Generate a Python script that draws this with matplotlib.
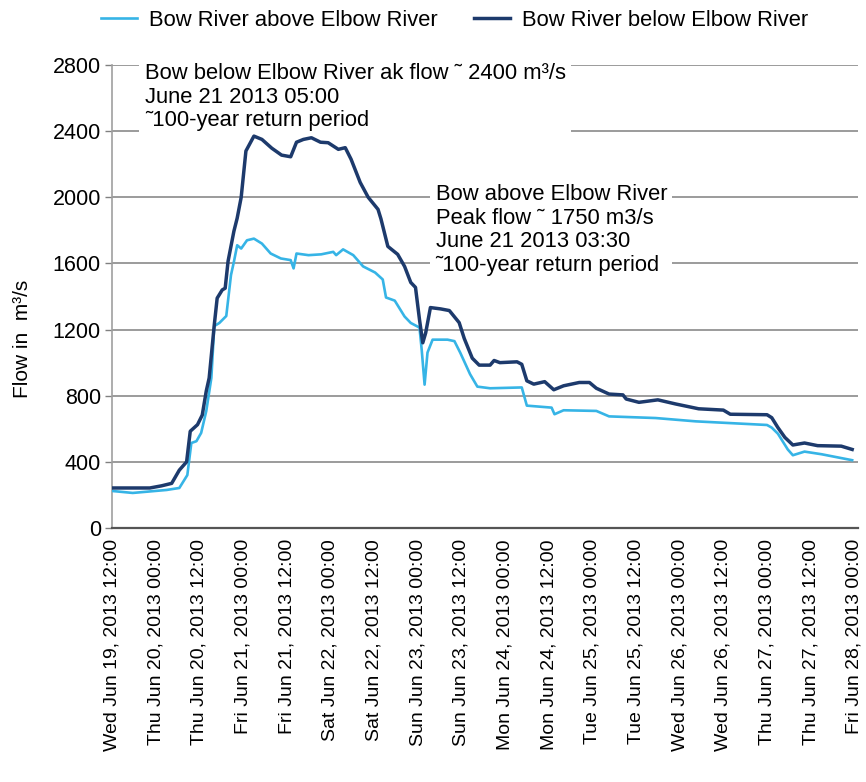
import matplotlib
matplotlib.use("Agg")
import matplotlib.pyplot as plt
import matplotlib.dates as mdates
from datetime import datetime, timedelta

plt.rcParams['font.family'] = ['Liberation Sans', 'DejaVu Sans']

# ---- data (hours after Wed Jun 19 2013 12:00) ----
above_hours = [0, 5.7, 15.0, 18.5, 20.7, 21.8, 23.2, 24.5, 25.9, 27.3, 28.1, 29.5, 31.4, 32.7,
               33.5, 34.4, 35.5, 37.1, 39.0, 41.2, 43.6, 46.4, 49.1, 49.9, 50.7, 54.0, 57.5,
               60.8, 61.6, 63.5, 66.3, 69.0, 72.3, 74.4, 75.3, 77.7, 80.4, 82.1, 84.5, 85.1,
               85.9, 86.7, 88.1, 92.2, 94.1, 95.7, 98.4, 100.4, 103.9, 112.6, 114.0, 120.8,
               121.6, 124.1, 133.1, 136.6, 149.4, 160.4, 180.0, 181.3, 183.0, 185.7, 187.1,
               190.3, 195.0, 203.4]
above_flow = [224, 212, 230, 242, 320, 514, 525, 575, 707, 907, 1221, 1240, 1282, 1530,
              1610, 1710, 1690, 1740, 1750, 1720, 1660, 1630, 1620, 1570, 1660, 1650, 1655,
              1670, 1650, 1685, 1650, 1582, 1545, 1503, 1394, 1375, 1279, 1240, 1212, 1079,
              867, 1061, 1139, 1139, 1130, 1060, 930, 855, 845, 850, 740, 728,
              688, 712, 708, 675, 665, 645, 623, 607, 570, 475, 440,
              462, 446, 410]

below_hours = [0, 10.4, 13.6, 16.4, 18.5, 20.5, 21.5, 23.5, 24.8, 25.9, 26.7, 28.1, 28.9,
               30.3, 31.1, 31.9, 33.5, 34.4, 35.5, 36.8, 39.0, 41.2, 43.9, 46.6, 49.1, 50.7,
               52.6, 54.8, 57.3, 59.4, 62.2, 64.1, 65.7, 68.2, 70.4, 73.1, 73.9, 75.8, 78.5,
               80.4, 82.1, 83.4, 84.5, 85.4, 86.2, 87.5, 90.3, 92.7, 95.4, 96.8, 99.0, 100.9,
               103.9, 105.0, 106.6, 111.3, 112.6, 114.0, 115.9, 118.9, 121.4, 124.1, 128.4,
               131.2, 133.1, 136.6, 140.4, 141.3, 144.8, 150.0, 154.9, 161.2, 168.0, 169.9,
               180.0, 181.3, 183.0, 184.9, 187.1, 190.3, 193.9, 200.4, 203.4]
below_flow = [242, 242, 255, 270, 350, 400, 585, 625, 683, 828, 907, 1227, 1390,
              1440, 1450, 1614, 1795, 1874, 2000, 2280, 2370, 2350, 2297, 2255, 2245, 2333,
              2350, 2360, 2333, 2330, 2290, 2300, 2230, 2090, 2000, 1927, 1870, 1703, 1655,
              1582, 1485, 1455, 1260, 1120, 1180, 1333, 1325, 1315, 1242, 1146, 1027, 985,
              985, 1013, 1000, 1005, 990, 890, 870, 885, 836, 860, 880,
              880, 845, 810, 805, 780, 760, 775, 750, 721, 713, 688,
              685, 667, 607, 548, 502, 514, 498, 495, 475]

series_labels = ["Bow River above Elbow River", "Bow River below Elbow River"]
y_ticks = [0, 400, 800, 1200, 1600, 2000, 2400, 2800]
note_below = "Bow below Elbow River ak flow \u02dc 2400 m\u00b3/s\nJune 21 2013 05:00\n\u02dc100-year return period"
note_above = "Bow above Elbow River\nPeak flow \u02dc 1750 m3/s\nJune 21 2013 03:30\n\u02dc100-year return period"

start = datetime(2013, 6, 19, 12, 0)
t_above = [start + timedelta(hours=h) for h in above_hours]
t_below = [start + timedelta(hours=h) for h in below_hours]

W, H = 866, 782
fig = plt.figure(figsize=(W / 100, H / 100), dpi=100)
ax = fig.add_axes([112 / W, 1 - 528 / H, 746 / W, 463 / H])

light = '#36b4e6'
dark = '#1d3a6c'
l1, = ax.plot(t_above, above_flow, color=light, lw=1.9, zorder=3, label=series_labels[0])
l2, = ax.plot(t_below, below_flow, color=dark, lw=2.5, zorder=3.1, label=series_labels[1])

ax.set_ylim(0, 2800)
ax.set_xlim(start, start + timedelta(hours=205))
ax.set_yticks(y_ticks)
ax.yaxis.grid(True, color='#808080', lw=1.1)
ax.set_axisbelow(True)

ax.xaxis.set_major_locator(mdates.HourLocator(byhour=[0, 12]))
ax.xaxis.set_major_formatter(mdates.DateFormatter('%a %b %d, %Y %H:%M'))
ax.tick_params(axis='x', length=0, pad=8, labelsize=14, labelrotation=90)
ax.tick_params(axis='y', length=5, width=1, color='#808080', pad=3, labelsize=15.5)

for s in ['top', 'right']:
    ax.spines[s].set_visible(False)
ax.spines['left'].set_color('#a0a0a0')
ax.spines['left'].set_linewidth(1.2)
ax.spines['bottom'].set_color('#555555')
ax.spines['bottom'].set_linewidth(1.6)

ax.set_ylabel("Flow in  m\u00b3/s", fontsize=15)
ax.yaxis.set_label_coords(-0.107, 0.408)

bbox = dict(facecolor='white', edgecolor='none', pad=4)
ax.text(start + timedelta(hours=9.0), 2606, note_below, fontsize=15.8, va='center', ha='left',
        linespacing=1.15, bbox=bbox, zorder=2, clip_on=False)
ax.text(start + timedelta(hours=88.9), 1802, note_above, fontsize=15.8, va='center', ha='left',
        linespacing=1.15, bbox=bbox, zorder=2, clip_on=False)

fig.legend(handles=[l1, l2], labels=series_labels, loc='center left',
           bbox_to_anchor=(101 / W, 1 - 20 / H), ncol=2, frameon=False, fontsize=15.8,
           handlelength=1.65, handletextpad=0.55, columnspacing=1.65,
           borderpad=0, borderaxespad=0)

fig.savefig('out.png', dpi=100)
